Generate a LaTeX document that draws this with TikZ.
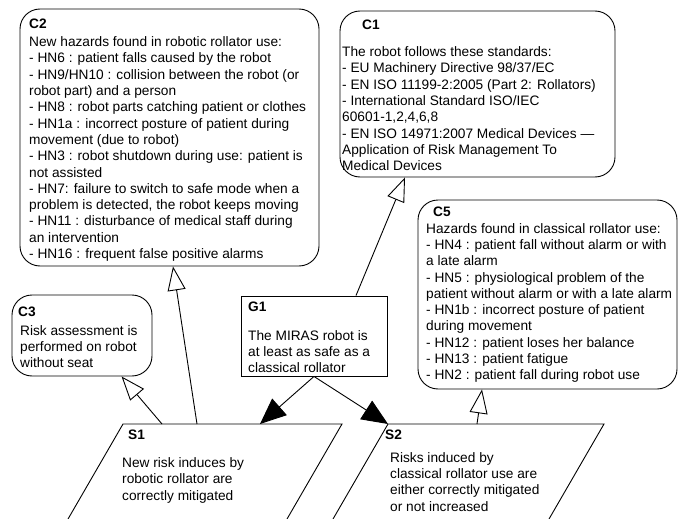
\documentclass[tikz,border=0pt]{standalone}
\usepackage{fontspec}
\setmainfont{Liberation Sans}
\usetikzlibrary{arrows.meta,calc}
\begin{document}
\begin{tikzpicture}[x=1pt,y=-1pt,
  cbox/.style={draw,line width=0.9pt,rounded corners=20pt,inner sep=0pt},
  gbox/.style={draw,line width=0.9pt,inner sep=0pt},
  lbl/.style={anchor=north west,inner sep=0pt,font=\fontsize{13.7}{16.3}\selectfont\bfseries},
  txt/.style={anchor=north west,inner sep=0pt,align=left,font=\fontsize{13.7}{16.3}\selectfont},
  openarr/.style={line width=0.9pt,-{Triangle[open,length=24pt,width=18pt]}},
  fillarr/.style={line width=0.9pt,-{Triangle[length=26pt,width=22pt]}},
  edge/.style={line width=0.9pt}]
\useasboundingbox (0,0) rectangle (678,519);
\clip (0,0) rectangle (678,519);
\fill[white] (0,0) rectangle (678,519);

% context boxes
\node[cbox,minimum width=299pt,minimum height=257pt] (c2) at (169.5,137.5) {};
\node[cbox,minimum width=275pt,minimum height=166pt] (c1) at (477.5,94) {};
\node[cbox,minimum width=259pt,minimum height=189pt] (c5) at (547.5,294.5) {};
\node[cbox,minimum width=140pt,minimum height=81pt] (c3) at (82,335.5) {};
\node[gbox,minimum width=146pt,minimum height=80pt] (g1) at (314,336) {};

% strategies (parallelograms, cut by the lower edge)
\coordinate (s1tl) at (123,424);
\coordinate (s1tr) at (342,424);
\coordinate (s1bl) at (44.3,560);
\coordinate (s1br) at (263.3,560);
\coordinate (s2tl) at (388,424);
\coordinate (s2tr) at (604,424);
\coordinate (s2bl) at (309.3,560);
\coordinate (s2br) at (525.3,560);
\draw[edge] (s1bl) -- (s1tl) -- (s1tr) -- (s1br) -- cycle;
\draw[edge] (s2bl) -- (s2tl) -- (s2tr) -- (s2br) -- cycle;

% texts
\node[lbl] (c2l) at (29,18.5) {C2};
\node[txt] (c2t) at (29,36.5) {New hazards found in robotic rollator use:\\
- HN6 : patient falls caused by the robot\\
- HN9/HN10 : collision between the robot (or\\
robot part) and a person\\
- HN8 : robot parts catching patient or clothes\\
- HN1a : incorrect posture of patient during\\
movement (due to robot)\\
- HN3 : robot shutdown during use: patient is\\
not assisted\\
- HN7: failure to switch to safe mode when a\\
problem is detected, the robot keeps moving\\
- HN11 : disturbance of medical staff during\\
an intervention\\
- HN16 : frequent false positive alarms};

\node[lbl] (c1l) at (362,20) {C1};
\node[txt] (c1t) at (342,46.5) {The robot follows these standards:\\
- EU Machinery Directive 98/37/EC\\
- EN ISO 11199-2:2005 (Part 2: Rollators)\\
- International Standard ISO/IEC\\
60601-1,2,4,6,8\\
- EN ISO 14971:2007 Medical Devices —\\
Application of Risk Management To\\
Medical Devices};

\node[lbl] (c5l) at (433,207) {C5};
\node[txt] (c5t) at (426,223) {Hazards found in classical rollator use:\\
- HN4 : patient fall without alarm or with\\
a late alarm\\
- HN5 : physiological problem of the\\
patient without alarm or with a late alarm\\
- HN1b : incorrect posture of patient\\
during movement\\
- HN12 : patient loses her balance\\
- HN13 : patient fatigue\\
- HN2 : patient fall during robot use};

\node[lbl] (c3l) at (18,307) {C3};
\node[txt] (c3t) at (20,325) {Risk assessment is\\performed on robot\\without seat};

\node[lbl] (g1l) at (248,302) {G1};
\node[txt] (g1t) at (248,330) {The MIRAS robot is\\at least as safe as a\\classical rollator};

\node[lbl] (s1l) at (128,430) {S1};
\node[txt] (s1) at (122,457.5) {New risk induces by\\robotic rollator are\\correctly mitigated};

\node[lbl] (s2l) at (385,430) {S2};
\node[txt] (s2) at (390,452) {Risks induced by\\classical rollator use are\\either correctly mitigated\\or not increased};

% connectors
\draw[fillarr] (g1.south) -- ($(s1tl)+(137,0)$);
\draw[fillarr] (g1.south) -- (s2tl);
\draw[openarr] ([xshift=42pt]g1.north) -- ([xshift=-72.5pt]c1.south);
\draw[openarr] ($(s1tl)+(74,0)$) -- ([xshift=3.5pt]c2.south);
\draw[openarr] ($(s1tl)+(39,0)$) -- ([xshift=110pt]c3.south west);
\draw[openarr] ($(s2tl)+(89,0)$) -- ([xshift=-65.5pt]c5.south);
\end{tikzpicture}
\end{document}
